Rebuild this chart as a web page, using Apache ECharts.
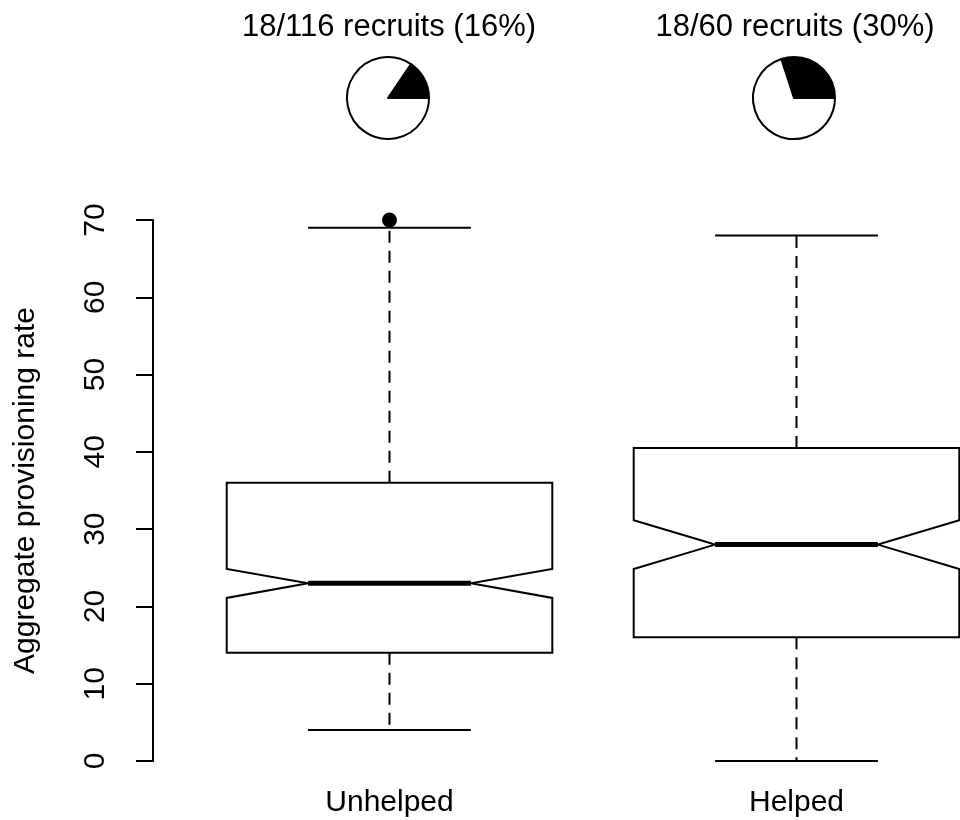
<!DOCTYPE html>
<html>
<head>
<meta charset="utf-8">
<script src="https://cdn.jsdelivr.net/npm/echarts@6/dist/echarts.min.js"></script>
<style>
  html, body { margin: 0; padding: 0; background: #fff; overflow: hidden; }
  #chart { width: 1040px; height: 820px; }
</style>
</head>
<body>
<div id="chart"></div>
<script>
// Groups along the x axis
var categories = ['Unhelped', 'Helped'];

// Notched box summaries per group
var whiskerLow  = [4, 0];
var boxLow      = [14, 16];
var notchLow    = [21.1, 24.85];
var medians     = [23, 28];
var notchHigh   = [24.85, 31.15];
var boxHigh     = [36, 40.5];
var whiskerHigh = [69, 68];

// Outlying points: [group index, value]
var outliers = [[0, 70]];

// Recruit counts shown in the pies above each group
var recruits = [18, 18];
var totals   = [116, 60];

// Y axis ticks
var yMin = 0, yMax = 70, yStep = 10;

var FONT = '"Liberation Sans", Arial, Helvetica, sans-serif';

var boxData = categories.map(function (c, i) {
  return [i, whiskerLow[i], boxLow[i], notchLow[i], medians[i], notchHigh[i], boxHigh[i], whiskerHigh[i]];
});

function renderNotchedBox(params, api) {
  var idx = api.value(0);
  var band = api.size([1, 0])[0];
  var hw = band * 0.4;
  var cx = api.coord([idx, 0])[0];
  function Y(v) { return api.coord([idx, v])[1]; }
  var wLo = Y(api.value(1)), q1 = Y(api.value(2)), nLo = Y(api.value(3)),
      med = Y(api.value(4)), nHi = Y(api.value(5)), q3 = Y(api.value(6)),
      wHi = Y(api.value(7));
  var L = cx - hw, R = cx + hw, mL = cx - hw / 2, mR = cx + hw / 2;
  var solid = { stroke: '#000', lineWidth: 2, fill: null };
  var dashed = { stroke: '#000', lineWidth: 2, lineDash: [12, 8], fill: null };
  return {
    type: 'group',
    children: [
      { type: 'line', shape: { x1: cx, y1: q3, x2: cx, y2: wHi }, style: dashed },
      { type: 'line', shape: { x1: cx, y1: q1, x2: cx, y2: wLo }, style: dashed },
      { type: 'line', shape: { x1: mL, y1: wHi, x2: mR, y2: wHi }, style: solid },
      { type: 'line', shape: { x1: mL, y1: wLo, x2: mR, y2: wLo }, style: solid },
      {
        type: 'polygon',
        shape: { points: [[L, q1], [L, nLo], [mL, med], [L, nHi], [L, q3],
                          [R, q3], [R, nHi], [mR, med], [R, nLo], [R, q1]] },
        style: { stroke: '#000', lineWidth: 2, fill: '#fff' }
      },
      { type: 'line', shape: { x1: mL, y1: med, x2: mR, y2: med },
        style: { stroke: '#000', lineWidth: 5, fill: null } }
    ]
  };
}

var pieCenters = [[388, 98], [794, 98]];
var pieSeries = categories.map(function (c, i) {
  return {
    type: 'pie',
    center: pieCenters[i],
    radius: 41,
    startAngle: 0,
    clockwise: false,
    silent: true,
    label: { show: false },
    labelLine: { show: false },
    itemStyle: { borderColor: '#000', borderWidth: 2 },
    data: [
      { value: recruits[i], itemStyle: { color: '#000' } },
      { value: totals[i] - recruits[i], itemStyle: { color: '#fff' } }
    ]
  };
});

var titleTexts = categories.map(function (c, i) {
  var pct = Math.round(100 * recruits[i] / totals[i]);
  return recruits[i] + '/' + totals[i] + ' recruits (' + pct + '%)';
});

var chart = echarts.init(document.getElementById('chart'), null, { renderer: 'canvas' });
chart.setOption({
  animation: false,
  backgroundColor: '#fff',
  textStyle: { fontFamily: FONT },
  graphic: titleTexts.map(function (t, i) {
    return {
      type: 'text',
      x: pieCenters[i][0] + 1,
      y: 27,
      style: { text: t, font: '31px ' + FONT, fill: '#000', textAlign: 'center', textVerticalAlign: 'middle' }
    };
  }),
  grid: { left: 186, top: 220, width: 814, height: 541, outerBoundsMode: 'none' },
  xAxis: {
    type: 'category',
    data: categories,
    boundaryGap: true,
    axisLine: { show: false },
    axisTick: { show: false },
    axisLabel: { fontSize: 30, color: '#000', margin: 27, fontFamily: FONT }
  },
  yAxis: {
    type: 'value',
    min: yMin,
    max: yMax,
    interval: yStep,
    offset: 33,
    name: 'Aggregate provisioning rate',
    nameLocation: 'middle',
    nameRotate: 90,
    nameGap: 112,
    nameTextStyle: { fontSize: 30, color: '#000', fontFamily: FONT },
    axisLine: { show: true, lineStyle: { color: '#000', width: 2 } },
    axisTick: { show: true, length: 17, lineStyle: { color: '#000', width: 2 } },
    axisLabel: { rotate: 90, fontSize: 30, color: '#000', margin: 42, fontFamily: FONT },
    splitLine: { show: false }
  },
  series: [
    {
      type: 'custom',
      renderItem: renderNotchedBox,
      data: boxData,
      encode: { x: 0, y: [1, 2, 3, 4, 5, 6, 7] },
      clip: false,
      silent: true
    },
    {
      type: 'scatter',
      data: outliers,
      symbol: 'circle',
      symbolSize: 15,
      itemStyle: { color: '#000', opacity: 1 },
      clip: false,
      silent: true,
      z: 5
    }
  ].concat(pieSeries)
});
</script>
</body>
</html>
